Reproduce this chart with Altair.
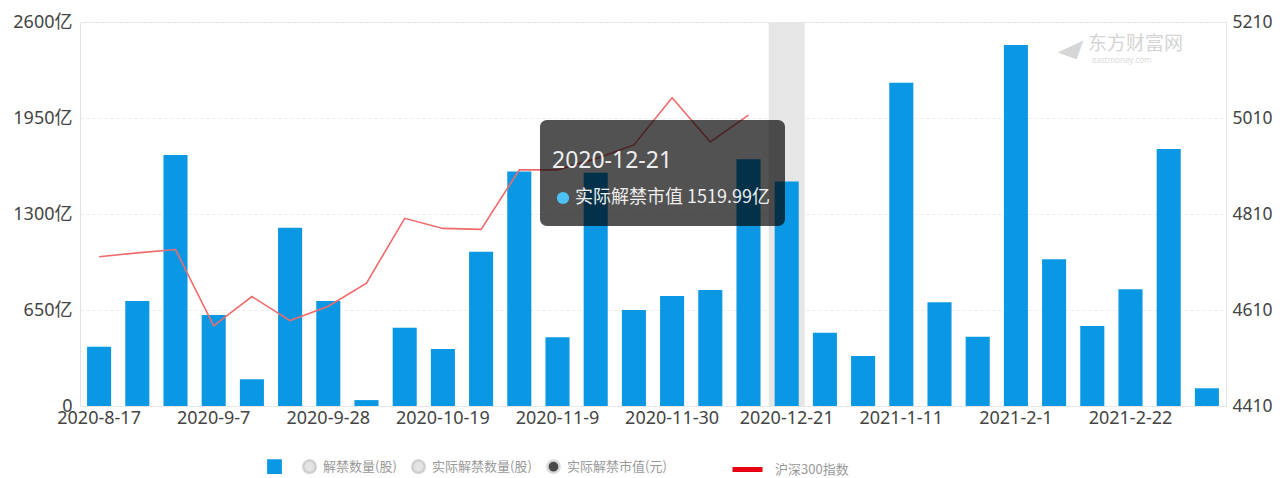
import altair as alt
import pandas as pd

# ---------------- data ----------------
dates = ["2020-8-17", "2020-8-24", "2020-8-31", "2020-9-7", "2020-9-14", "2020-9-21",
         "2020-9-28", "2020-10-5", "2020-10-12", "2020-10-19", "2020-10-26", "2020-11-2",
         "2020-11-9", "2020-11-16", "2020-11-23", "2020-11-30", "2020-12-7", "2020-12-14",
         "2020-12-21", "2020-12-28", "2021-1-4", "2021-1-11", "2021-1-18", "2021-1-25",
         "2021-2-1", "2021-2-8", "2021-2-15", "2021-2-22", "2021-3-1", "2021-3-8"]

# 实际解禁市值 (亿)
unlock_value = [401, 711, 1699, 616, 181, 1207, 711, 40, 530, 386, 1045, 1587,
                465, 1580, 650, 745, 785, 1670, 1519.99, 496, 339, 2189, 702, 469,
                2444, 993, 542, 790, 1740, 120]

# 沪深300指数 (only through 2020-12-14)
hs300_dates = dates[:18]
hs300 = [4721, 4729, 4736, 4577, 4638, 4588, 4618, 4666, 4801, 4780, 4778, 4902,
         4902, 4925, 4954, 5052, 4960, 5016]

x_labels = dates[::3]
left_ticks = [0, 650, 1300, 1950, 2600]
right_ticks = [4410, 4610, 4810, 5010, 5210]

hover_date = "2020-12-21"
tooltip_title = "2020-12-21"
tooltip_text = "实际解禁市值 1519.99亿"

legend_items = [" ", "解禁数量(股)", "实际解禁数量(股)", "实际解禁市值(元)"]
legend_fill = ["#0a98e4", "#e4e4e4", "#e4e4e4", "#4a4a4a"]
legend_stroke = ["#0a98e4", "#cfcfcf", "#cfcfcf", "#dadada"]
legend_shape = ["square", "circle", "circle", "circle"]
line_series = "沪深300指数"

FONT = "Noto Sans, Noto Sans CJK SC, sans-serif"
CJK = "Noto Sans CJK SC, sans-serif"
BAR = "#0a98e4"

bars_df = pd.DataFrame({"date": dates, "value": unlock_value})
line_df = pd.DataFrame({"date": hs300_dates, "idx": hs300})
hover_df = pd.DataFrame({"date": [hover_date]})
one = pd.DataFrame({"k": [0]})
legend_df = pd.DataFrame({"item": legend_items})
line_legend_df = pd.DataFrame({"series": [line_series]})

W, H = 1146, 384
xscale = alt.Scale(domain=dates, paddingInner=0.37, paddingOuter=0.185)
xaxis = alt.Axis(values=x_labels, labelAngle=0, ticks=False, domain=False,
                 labelFontSize=18, labelColor="#444", labelFont=FONT,
                 labelPadding=3, title=None)

highlight = alt.Chart(hover_df).mark_bar(
    color="#e6e6e6", width=alt.RelativeBandSize(1.5)
).encode(
    x=alt.X("date:N", scale=xscale, axis=xaxis, title=None),
    y=alt.value(0), y2=alt.value(H),
)

bars = alt.Chart(bars_df).mark_bar(color=BAR).encode(
    x=alt.X("date:N", scale=xscale, axis=xaxis, title=None),
    y=alt.Y("value:Q", scale=alt.Scale(domain=[0, 2600], nice=False), title=None,
            axis=alt.Axis(orient="left", values=left_ticks, ticks=False, domain=False,
                          labelExpr="datum.value == 0 ? '0' : datum.value + '亿'",
                          labelFontSize=18, labelColor="#444", labelFont=FONT,
                          labelPadding=8, labelBaseline="middle",
                          grid=True, gridColor="#ebebeb", gridDash=[3, 3])),
)

line = alt.Chart(line_df).mark_line(strokeWidth=1.6, color="#ef6b6b").encode(
    x=alt.X("date:N", scale=xscale, axis=xaxis, title=None),
    y=alt.Y("idx:Q", scale=alt.Scale(domain=[4410, 5210], nice=False, zero=False), title=None,
            axis=alt.Axis(orient="right", values=right_ticks, ticks=False, domain=False,
                          grid=False, labelFontSize=17.5, labelColor="#444", labelFont=FONT,
                          labelPadding=6, labelBaseline="middle", format="d")),
)

tip_box = alt.Chart(one).mark_rect(color="black", opacity=0.68, cornerRadius=7).encode(
    x=alt.value(460), x2=alt.value(705), y=alt.value(98), y2=alt.value(204)
)
tip_title = alt.Chart(one).mark_text(
    text=tooltip_title, align="left", baseline="alphabetic", fontSize=23,
    color="#eeeeee", font=FONT
).encode(x=alt.value(472), y=alt.value(146))
tip_dot = alt.Chart(one).mark_point(filled=True, color="#4cc2f4", size=150, opacity=1).encode(
    x=alt.value(483), y=alt.value(176)
)
tip_text = alt.Chart(one).mark_text(
    text=tooltip_text, align="left", baseline="middle", fontSize=18,
    color="#eeeeee", font=CJK
).encode(x=alt.value(495), y=alt.value(176))

wm1 = alt.Chart(one).mark_text(
    text="东方财富网", align="left", baseline="middle", fontSize=19,
    color="#d4d4d4", font=CJK
).encode(x=alt.value(1008), y=alt.value(22))
wm2 = alt.Chart(one).mark_text(
    text="eastmoney.com", align="left", baseline="middle", fontSize=8,
    color="#dadada", font=FONT
).encode(x=alt.value(1012), y=alt.value(39))
wm3 = alt.Chart(one).mark_text(
    text="◢", align="center", baseline="middle", fontSize=20, angle=20,
    color="#d6d6d6", font=FONT
).encode(x=alt.value(990), y=alt.value(26))

legend_a = alt.Chart(legend_df).mark_point(filled=True, opacity=1).encode(
    x=alt.value(-3000), y=alt.value(-3000),
    fill=alt.Fill("item:N", scale=alt.Scale(domain=legend_items, range=legend_fill),
                  legend=alt.Legend(title=None, orient="none", direction="horizontal",
                                    legendX=187, legendY=437, symbolSize=150,
                                    symbolStrokeWidth=2.5, symbolOpacity=1,
                                    labelFontSize=13, labelColor="#999", labelFont=CJK,
                                    labelOffset=6, columnPadding=10,
                                    labelExpr="datum.label == ' ' ? '' : datum.label")),
    stroke=alt.Stroke("item:N", scale=alt.Scale(domain=legend_items, range=legend_stroke)),
    shape=alt.Shape("item:N", scale=alt.Scale(domain=legend_items, range=legend_shape)),
)

legend_b = alt.Chart(line_legend_df).mark_rule(strokeWidth=5).encode(
    x=alt.value(-3000), x2=alt.value(-2990), y=alt.value(-3000),
    color=alt.Color("series:N", scale=alt.Scale(domain=[line_series], range=["#e60012"]),
                    legend=alt.Legend(title=None, orient="none", legendX=650, legendY=430,
                                      symbolType="stroke", symbolStrokeWidth=5,
                                      symbolSize=900, symbolOpacity=1, labelFontSize=13,
                                      labelColor="#999", labelFont=CJK, labelOffset=10)),
)

chart = alt.layer(
    highlight, bars, line, tip_box, tip_title, tip_dot, tip_text, wm3, wm1, wm2,
    legend_a, legend_b
).resolve_scale(
    y="independent", color="independent"
).properties(
    width=W, height=H,
    autosize=alt.AutoSizeParams(type="none"),
    padding={"left": 72, "top": 14, "right": 46, "bottom": 70},
    background="white",
).configure_view(stroke="#e2e2e2")

chart.save("out.html", embed_options={"renderer": "svg", "actions": False})
